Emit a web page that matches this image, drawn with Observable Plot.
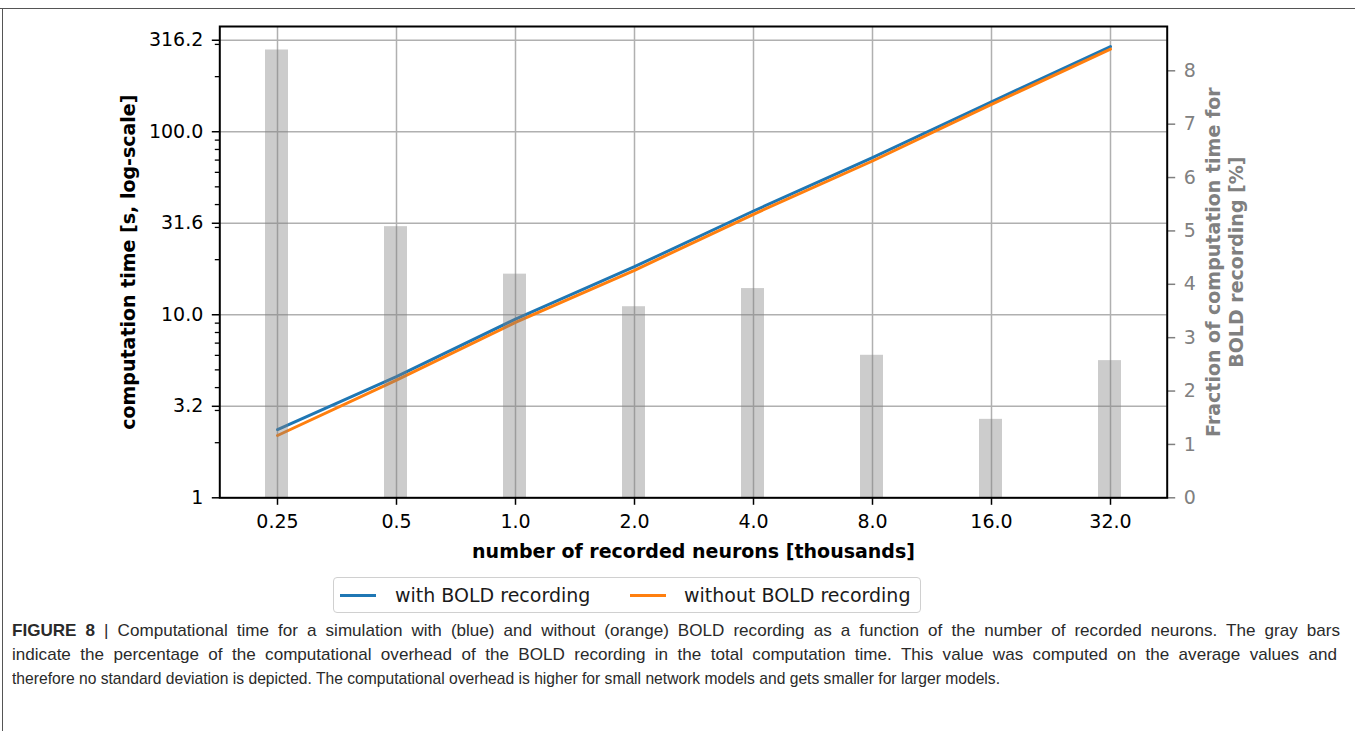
<!DOCTYPE html>
<html>
<head>
<meta charset="utf-8">
<script src="https://cdn.jsdelivr.net/npm/d3@7"></script>
<script src="https://cdn.jsdelivr.net/npm/@observablehq/plot@0.6"></script>
<style>
  html, body { margin: 0; padding: 0; background: white; }
  #fig { position: relative; width: 1355px; height: 731px; overflow: hidden; background: white; }
  #fig svg { position: absolute; left: 0; top: 0; }
  .border-top { position: absolute; left: 0; top: 8px; width: 1355px; height: 0; border-top: 1.5px solid #555; }
  .border-left { position: absolute; left: 2px; top: 8px; width: 0; height: 723px; border-left: 1.5px solid #555; }
  #legend { position: absolute; left: 333px; top: 577px; width: 586px; height: 34px; border: 1px solid #d0d0d0; border-radius: 4px; font-family: "DejaVu Sans", sans-serif; font-size: 19px; color: #1a1a1a; background: white; }
  #legend .sw { position: absolute; top: 15.5px; width: 36px; height: 3px; }
  #legend .lb { position: absolute; top: 0; line-height: 34px; white-space: nowrap; }
  #caption { position: absolute; left: 12px; top: 619px; font-family: "Liberation Sans", Arial, sans-serif; font-size: 17px; color: #2a2a2a; }
  #caption .ln { display: block; white-space: nowrap; line-height: 24px; height: 24px; transform-origin: 0 50%; width: max-content; }
</style>
</head>
<body>
<div id="fig">
  <div class="border-top"></div>
  <div class="border-left"></div>
  <div id="legend"></div>
  <div id="caption"></div>
</div>
<script>
// ---------------- data ----------------
const neuronsK = ["0.25", "0.5", "1.0", "2.0", "4.0", "8.0", "16.0", "32.0"];
const timeWithBold = [2.36, 4.59, 9.47, 18.3, 36.9, 72.1, 145.8, 292];
const timeWithoutBold = [2.19, 4.40, 9.08, 17.5, 35.4, 69.2, 141.0, 283];
const overheadPct = [8.39, 5.08, 4.19, 3.58, 3.92, 2.67, 1.47, 2.57];

const seriesNames = ["with BOLD recording", "without BOLD recording"];
const seriesColors = ["#1f77b4", "#ff7f0e"];

const yMajorTicks = [1, 3.162, 10, 31.62, 100, 316.2];
const yMajorLabels = ["1", "3.2", "10.0", "31.6", "100.0", "316.2"];
const yMinorTicks = [2, 3, 4, 5, 6, 7, 8, 9, 20, 30, 40, 50, 60, 70, 80, 90, 200, 300];
const rightTicks = [0, 1, 2, 3, 4, 5, 6, 7, 8];

const xTitle = "number of recorded neurons [thousands]";
const yTitle = "computation time [s, log-scale]";
const y2Title = "Fraction of computation time for\nBOLD recording [%]";
const captionLines = [
  ["FIGURE 8", " | Computational time for a simulation with (blue) and without (orange) BOLD recording as a function of the number of recorded neurons. The gray bars"],
  ["", "indicate the percentage of the computational overhead of the BOLD recording in the total computation time. This value was computed on the average values and"],
  ["", "therefore no standard deviation is depicted. The computational overhead is higher for small network models and gets smaller for larger models."]
];
const captionWidths = [1328, 1325, 988];
const captionJustify = [true, true, false];

// ---------------- layout ----------------
const W = 1355, H = 570;
const M = { left: 219.3, right: 1355 - 1166.7, top: 26, bottom: 570 - 497.3 };
const TICK_FS = 19, TITLE_FS = 19;
const baseStyle = { fontFamily: "DejaVu Sans, sans-serif", fontSize: "19px", background: "transparent", overflow: "visible", color: "black" };

const lineRows = [];
neuronsK.forEach((k, i) => {
  lineRows.push({ k, t: timeWithBold[i], s: seriesNames[0] });
});
neuronsK.forEach((k, i) => {
  lineRows.push({ k, t: timeWithoutBold[i], s: seriesNames[1] });
});
const barRows = neuronsK.map((k, i) => ({ k, p: overheadPct[i] }));
const labelMap = new Map(yMajorTicks.map((v, i) => [v, yMajorLabels[i]]));

const plotBottom = Plot.plot({
  width: W, height: H,
  marginLeft: M.left, marginRight: M.right, marginTop: M.top, marginBottom: M.bottom,
  style: baseStyle,
  x: { type: "point", domain: neuronsK, padding: 0.456 },
  y: { type: "log", domain: [1, 375.8] },
  color: { domain: seriesNames, range: seriesColors },
  marks: [
    Plot.ruleX(neuronsK, { x: d => d, stroke: "#b0b0b0", strokeWidth: 1.5 }),
    Plot.ruleY(yMajorTicks, { y: d => d, stroke: "#b0b0b0", strokeWidth: 1.5 }),
    Plot.line(lineRows, { x: "k", y: "t", stroke: "s", z: "s", strokeWidth: 3 }),
    Plot.axisY({ anchor: "left", ticks: yMinorTicks, tickFormat: () => "", tickSize: 4.5, strokeWidth: 1.3, label: null }),
    Plot.axisY({ anchor: "left", ticks: yMajorTicks, tickFormat: d => labelMap.get(d), tickSize: 7.5, tickPadding: 9, strokeWidth: 1.5, fontSize: TICK_FS, label: null }),
    Plot.axisX({ anchor: "bottom", tickSize: 7.5, tickPadding: 9.5, strokeWidth: 1.5, fontSize: TICK_FS, label: null }),
    Plot.text([xTitle], { frameAnchor: "bottom", dy: 53.7, textAnchor: "middle", lineAnchor: "middle", fontWeight: "bold", fontSize: TITLE_FS, fill: "black" }),
    Plot.text([yTitle], { frameAnchor: "left", rotate: -90, dx: -91.3, textAnchor: "middle", lineAnchor: "middle", fontWeight: "bold", fontSize: TITLE_FS, fill: "black" })
  ]
});

const plotTop = Plot.plot({
  width: W, height: H,
  marginLeft: M.left, marginRight: M.right, marginTop: M.top, marginBottom: M.bottom,
  style: baseStyle,
  x: { type: "band", domain: neuronsK, paddingInner: 0.805, paddingOuter: 0.3585, axis: null },
  y: { domain: [0, 8.83] },
  marks: [
    Plot.barY(barRows, { x: "k", y: "p", fill: "gray", fillOpacity: 0.4 }),
    Plot.axisY({ anchor: "right", ticks: rightTicks, tickSize: 7.5, tickPadding: 9, strokeWidth: 1.5, fontSize: TICK_FS, color: "#808080", label: null }),
    Plot.frame({ stroke: "black", strokeWidth: 2 }),
    Plot.text([y2Title], { frameAnchor: "right", rotate: -90, dx: 57, textAnchor: "middle", lineAnchor: "middle", lineHeight: 1.2, fontWeight: "bold", fontSize: TITLE_FS, fill: "#808080" })
  ]
});

const fig = document.getElementById("fig");
fig.insertBefore(plotTop, document.getElementById("legend"));
fig.insertBefore(plotBottom, plotTop);

// ---------------- legend ----------------
const legend = document.getElementById("legend");
const legendPos = [[6, 61], [296, 350]];
seriesNames.forEach((name, i) => {
  const sw = document.createElement("div");
  sw.className = "sw";
  sw.style.left = legendPos[i][0] + "px";
  sw.style.background = seriesColors[i];
  legend.appendChild(sw);
  const lb = document.createElement("div");
  lb.className = "lb";
  lb.style.left = legendPos[i][1] + "px";
  lb.textContent = name;
  legend.appendChild(lb);
});

// ---------------- caption ----------------
const cap = document.getElementById("caption");
const spans = captionLines.map(([bold, rest]) => {
  const ln = document.createElement("span");
  ln.className = "ln";
  if (bold) {
    const b = document.createElement("b");
    b.textContent = bold;
    ln.appendChild(b);
  }
  ln.appendChild(document.createTextNode(rest));
  cap.appendChild(ln);
  return ln;
});
const lastIdx = captionLines.length - 1;
const baseScale = captionWidths[lastIdx] / spans[lastIdx].getBoundingClientRect().width;
spans.forEach((ln, i) => {
  const w = ln.getBoundingClientRect().width;
  if (captionJustify[i]) {
    const fit = captionWidths[i] / w;
    const s = Math.sqrt(fit * baseScale);
    const nSpaces = (ln.textContent.match(/ /g) || []).length;
    const extra = Math.max(0, (captionWidths[i] / s - w) / nSpaces);
    ln.style.wordSpacing = extra + "px";
    ln.style.transform = `scaleX(${s})`;
  } else {
    ln.style.transform = `scaleX(${baseScale})`;
  }
});
</script>
</body>
</html>
